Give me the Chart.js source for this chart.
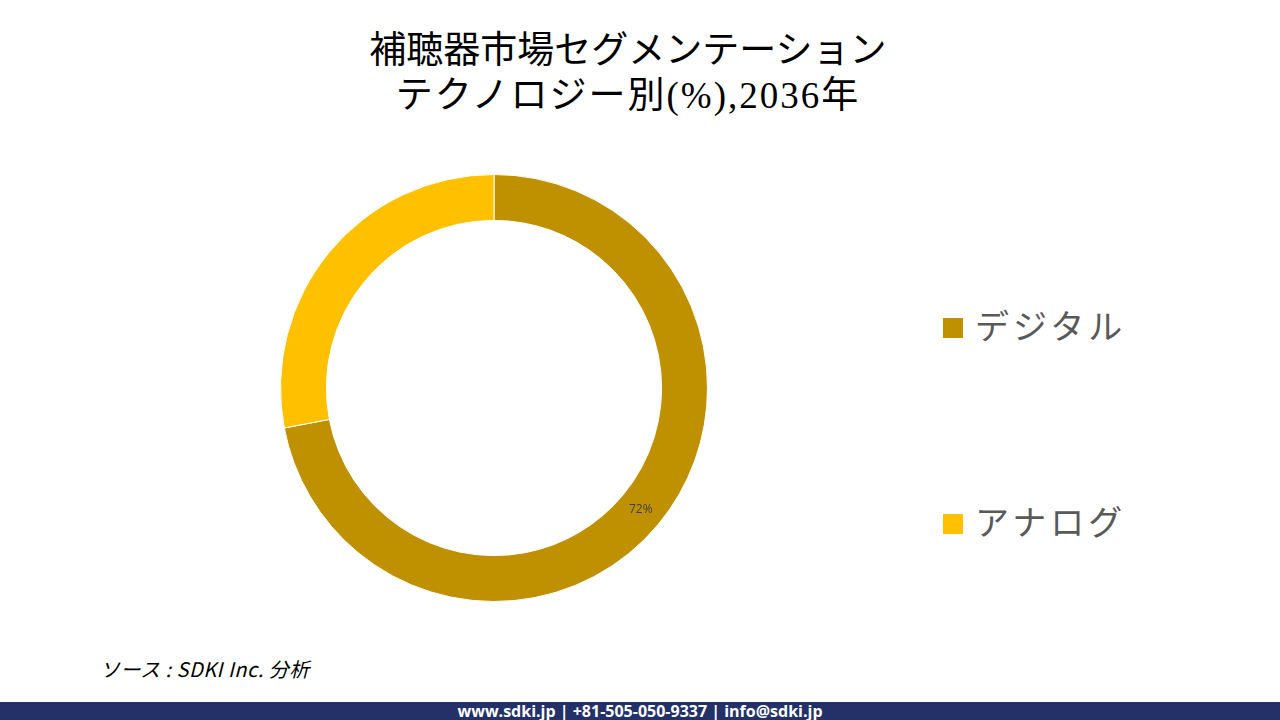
<!DOCTYPE html>
<html>
<head>
<meta charset="utf-8">
<script src="https://cdn.jsdelivr.net/npm/chart.js@4.4.1/dist/chart.umd.min.js"></script>
<style>
  html,body{margin:0;padding:0;background:#fff;}
  body{width:1280px;height:720px;position:relative;overflow:hidden;}
  #title{position:absolute;left:-12px;top:28px;width:1280px;text-align:center;
    font-family:"Liberation Serif","DejaVu Serif","Noto Sans CJK JP",serif;font-size:37px;line-height:45px;color:#000;}
  #title .l2{letter-spacing:2px;}
  #chartBox{position:absolute;left:280px;top:174px;width:428px;height:428px;}
  #legend{position:absolute;left:943px;top:0;}
  .lg{position:absolute;left:0;white-space:nowrap;font-family:"Noto Sans CJK JP",sans-serif;
    font-size:34px;color:#595959;letter-spacing:4px;}
  .lg span.sw{position:absolute;left:0;width:20px;height:20px;}
  .lg span.tx{position:absolute;left:32px;white-space:nowrap;}
  #source{position:absolute;left:100px;top:654px;font-family:"Noto Sans CJK JP",sans-serif;
    font-style:italic;font-size:20px;color:#000;letter-spacing:0.5px;}
  #footer{position:absolute;left:0;top:702px;width:1280px;height:18px;background:#243169;
    color:#fff;font-family:"Open Sans",sans-serif;font-weight:bold;font-size:16px;line-height:18px;text-align:center;}
</style>
</head>
<body>
<div id="title">補聴器市場セグメンテーション<br><span class="l2">テクノロジー別(%),2036年</span></div>
<div id="chartBox"><canvas id="c" width="428" height="428"></canvas></div>
<div id="legend"></div>
<div id="source">ソース&nbsp;: SDKI Inc. 分析</div>
<div id="footer">www.sdki.jp | +81-505-050-9337 | info@sdki.jp</div>
<script>
const categories = ["デジタル", "アナログ"];
const shares = [72, 28];
const sliceColors = ["#BF9000", "#FFC000"];
const labelFlags = [true, false];

// HTML legend built from data
const legendTops = [306, 502];
const legend = document.getElementById('legend');
categories.forEach((cat, i) => {
  const d = document.createElement('div');
  d.className = 'lg';
  d.style.top = legendTops[i] + 'px';
  d.innerHTML = '<span class="sw" style="top:12px;background:' + sliceColors[i] + '"></span><span class="tx" style="top:-6px">' + cat + '</span>';
  legend.appendChild(d);
});

const arcLabels = {
  id: 'arcLabels',
  afterDatasetsDraw(chart) {
    const ctx = chart.ctx;
    const meta = chart.getDatasetMeta(0);
    ctx.save();
    ctx.font = '12px "Open Sans", sans-serif';
    ctx.fillStyle = '#404040';
    ctx.textAlign = 'center';
    ctx.textBaseline = 'middle';
    meta.data.forEach((arc, i) => {
      if (!labelFlags[i]) return;
      const p = arc.tooltipPosition();
      ctx.fillText(shares[i] + '%', p.x, p.y);
    });
    ctx.restore();
  }
};

new Chart(document.getElementById('c'), {
  type: 'doughnut',
  data: {
    labels: categories,
    datasets: [{
      data: shares,
      backgroundColor: sliceColors,
      borderColor: '#ffffff',
      borderWidth: 1
    }]
  },
  options: {
    responsive: false,
    animation: false,
    cutout: '78.5%',
    layout: { padding: 0 },
    plugins: { legend: { display: false }, tooltip: { enabled: false }, title: { display: false } }
  },
  plugins: [arcLabels]
});
</script>
</body>
</html>
